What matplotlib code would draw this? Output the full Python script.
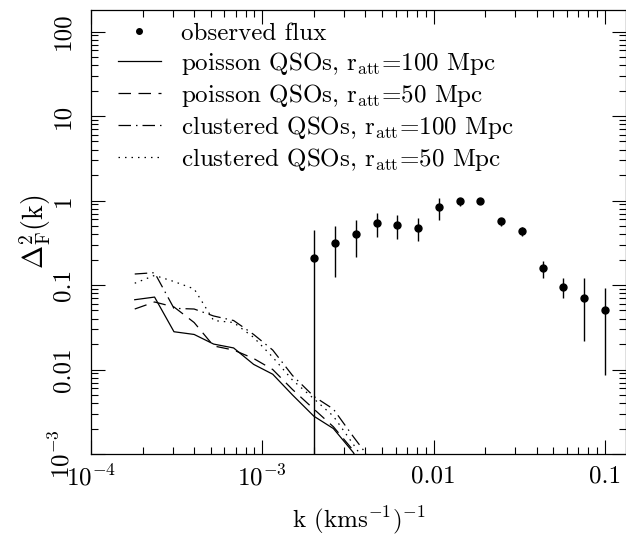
import numpy as np
import matplotlib
matplotlib.use('Agg')
import matplotlib.pyplot as plt
from matplotlib.lines import Line2D
from matplotlib.legend_handler import HandlerLine2D
from matplotlib.ticker import FixedLocator, FixedFormatter, NullFormatter, LogLocator

plt.rcParams['font.family'] = ['cmr10', 'DejaVu Serif']
plt.rcParams['mathtext.fontset'] = 'cm'
plt.rcParams['axes.unicode_minus'] = False

# observed flux power spectrum
k_obs = [0.00200, 0.00265, 0.00352, 0.00467, 0.00611, 0.00811, 0.01076, 0.01426,
         0.01866, 0.0247, 0.0328, 0.0435, 0.0569, 0.0755, 0.1000]
p_obs = [0.211, 0.311, 0.398, 0.542, 0.509, 0.469, 0.831, 0.986,
         0.997, 0.572, 0.440, 0.158, 0.095, 0.070, 0.051]
p_hi = [0.448, 0.505, 0.583, 0.706, 0.668, 0.615, 1.062, 1.082,
        1.04, 0.628, 0.491, 0.192, 0.120, 0.120, 0.092]
p_lo = [1e-5, 0.126, 0.217, 0.370, 0.350, 0.332, 0.588, 0.861,
        0.95, 0.505, 0.380, 0.122, 0.071, 0.0220, 0.0085]

# model curves
k_mod = [1.8e-4, 2.35e-4, 3.05e-4, 4.0e-4, 5.2e-4, 6.8e-4, 8.9e-4,
         1.15e-3, 1.5e-3, 2.0e-3, 2.6e-3, 3.4e-3, 4.4e-3]
poisson_100 = [0.067, 0.072, 0.028, 0.026, 0.020, 0.018, 0.0115,
               0.0088, 0.0050, 0.0028, 0.0020, 0.00104, 0.0004]
poisson_50 = [0.052, 0.063, 0.055, 0.036, 0.019, 0.017, 0.0135,
              0.0100, 0.0058, 0.0034, 0.0021, 0.0011, 0.0005]
clustered_100 = [0.135, 0.14, 0.053, 0.052, 0.043, 0.038, 0.026,
                 0.017, 0.0085, 0.0048, 0.0034, 0.0016, 0.0008]
clustered_50 = [0.105, 0.13, 0.11, 0.09, 0.038, 0.036, 0.024,
                0.014, 0.0075, 0.0045, 0.0028, 0.0013, 0.0006]

xticks = [1e-4, 1e-3, 1e-2, 1e-1]
xtick_labels = [r'$10^{-4}$', r'$10^{-3}$', '0.01', '0.1']
yticks = [1e-3, 1e-2, 1e-1, 1, 10, 100]
ytick_labels = [r'$10^{-3}$', '0.01', '0.1', '1', '10', '100']


class DotRight(HandlerLine2D):
    # put the legend marker at the right end of the handle
    def get_xdata(self, legend, xdescent, ydescent, width, height, fontsize):
        xdata, _ = super().get_xdata(legend, xdescent, ydescent, width, height, fontsize)
        return xdata, np.array([-xdescent + width])


fig = plt.figure(figsize=(6.26, 5.35), dpi=100)
ax = fig.add_axes([91 / 626, 81 / 535, 535 / 626, 444 / 535])

p_obs_a = np.array(p_obs)
yerr = [p_obs_a - np.array(p_lo), np.array(p_hi) - p_obs_a]
ax.errorbar(k_obs, p_obs, yerr=yerr, fmt='o', color='k', ms=5,
            elinewidth=1, capsize=0)

lw = 0.9
ax.plot(k_mod, poisson_100, color='k', lw=lw, ls='-')
ax.plot(k_mod, poisson_50, color='k', lw=lw, ls=(0, (10, 6)))
ax.plot(k_mod, clustered_100, color='k', lw=lw, ls=(0, (10, 4, 1.2, 4)))
ax.plot(k_mod, clustered_50, color='k', lw=lw, ls=(0, (1.2, 4)))

ax.set_xscale('log')
ax.set_yscale('log')
ax.set_xlim(1e-4, 0.1327)
ax.set_ylim(1e-3, 180)

ax.xaxis.set_major_locator(FixedLocator(xticks))
ax.xaxis.set_major_formatter(FixedFormatter(xtick_labels))
ax.yaxis.set_major_locator(FixedLocator(yticks))
ax.yaxis.set_major_formatter(FixedFormatter(ytick_labels))
ax.xaxis.set_minor_locator(LogLocator(subs=np.arange(2, 10)))
ax.yaxis.set_minor_locator(LogLocator(subs=np.arange(2, 10)))
ax.xaxis.set_minor_formatter(NullFormatter())
ax.yaxis.set_minor_formatter(NullFormatter())

ax.tick_params(which='both', direction='in', top=True, right=True, width=0.8,
               labelsize=18)
ax.tick_params(which='major', length=10)
ax.tick_params(which='minor', length=5)
ax.tick_params(axis='x', pad=8)
ax.tick_params(axis='y', pad=12)
for lab in ax.get_yticklabels():
    lab.set_rotation(90)
    lab.set_va('center')
for sp in ax.spines.values():
    sp.set_linewidth(0.9)

ax.set_xlabel(r'k (kms$^{-1}$)$^{-1}$', fontsize=18, labelpad=10)
ax.set_ylabel(r'$\Delta^{2}_{\rm F}(\rm k)$', fontsize=20, labelpad=-3)

handles = [
    Line2D([], [], color='k', marker='o', ms=4, ls='none'),
    Line2D([], [], color='k', lw=lw, ls='-'),
    Line2D([], [], color='k', lw=lw, ls=(0, (10, 6))),
    Line2D([], [], color='k', lw=lw, ls=(0, (10, 4, 1.2, 4))),
    Line2D([], [], color='k', lw=lw, ls=(0, (1.2, 4))),
]
labels = [
    'observed flux',
    r'poisson QSOs, r$_{\rm att}$=100 Mpc',
    r'poisson QSOs, r$_{\rm att}$=50 Mpc',
    r'clustered QSOs, r$_{\rm att}$=100 Mpc',
    r'clustered QSOs, r$_{\rm att}$=50 Mpc',
]
leg = ax.legend(handles, labels, loc='upper left', frameon=False, fontsize=18,
                handlelength=1.7, handletextpad=0.8, labelspacing=0.2,
                borderaxespad=0.0, bbox_to_anchor=(0.032, 0.995), numpoints=1,
                handler_map={handles[0]: DotRight(numpoints=1)})

fig.savefig('out.png', dpi=100)
